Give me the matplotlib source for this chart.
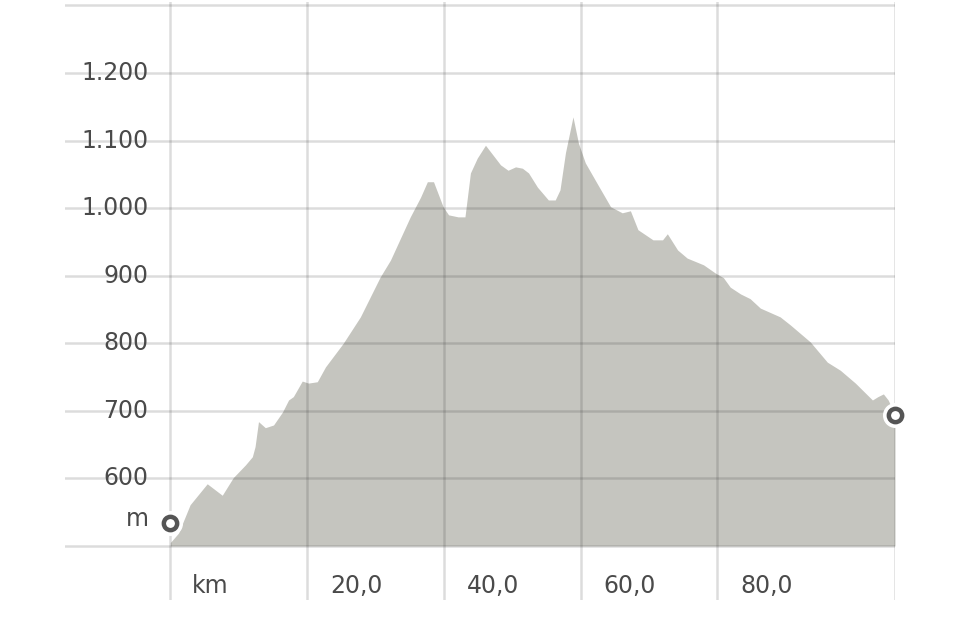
import matplotlib
matplotlib.use("Agg")
import matplotlib.pyplot as plt
import numpy as np

# elevation profile, km vs m
km = [0.0, 1.2, 2.9, 5.4, 7.6, 9.2, 11.0, 12.0, 12.4, 12.9, 13.9, 15.1, 16.4, 17.3,
      18.0, 19.3, 20.2, 21.5, 22.7, 25.3, 27.8, 30.7, 32.2, 35.1, 36.6, 37.6, 38.5,
      39.9, 40.7, 42.1, 43.1, 43.9, 44.9, 46.1, 48.3, 49.4, 50.5, 51.5, 52.4, 53.7,
      55.3, 56.3, 57.0, 57.8, 58.9, 59.7, 60.7, 62.4, 64.4, 66.1, 67.3, 68.4, 70.6,
      72.0, 72.7, 74.2, 75.6, 78.0, 79.7, 80.9, 81.9, 83.4, 84.8, 86.3, 89.2, 90.7,
      93.6, 96.1, 98.0, 100.2, 102.7, 103.5, 104.3, 105.0, 106.0]
elev = [505, 519, 561, 592, 575, 601, 620, 632, 647, 684, 675, 679, 698, 716,
        721, 744, 741, 743, 765, 800, 839, 898, 923, 987, 1016, 1039, 1039,
        1002, 990, 987, 987, 1052, 1074, 1093, 1064, 1056, 1061, 1059, 1052, 1031,
        1012, 1012, 1027, 1082, 1135, 1096, 1067, 1037, 1002, 993, 996, 968, 953,
        953, 962, 938, 926, 916, 904, 897, 883, 873, 866, 852, 839, 827,
        802, 772, 760, 741, 716, 721, 725, 716, 694]

start_pt = (0.0, 534)
end_pt = (106.0, 694)

y_ticks = [600, 700, 800, 900, 1000, 1100, 1200]
y_labels = ["600", "700", "800", "900", "1.000", "1.100", "1.200"]
x_ticks = [20, 40, 60, 80]
x_labels = ["20,0", "40,0", "60,0", "80,0"]

fig = plt.figure(figsize=(9.6, 6.4), dpi=100)
ax = fig.add_axes([0, 0, 1, 1])
x_left, x_right = -15.4, 106.0
y_bot, y_top = 420, 1305
# axes placed so that x 65..895 px, y 2..600 px
ax.set_position([65/960, 40/640, 830/960, 598/640])
ax.set_xlim(x_left, x_right)
ax.set_ylim(y_bot, y_top)
ax.axis("off")

ax.fill_between(km, 500, elev, color="#c5c5bf", lw=0, zorder=1)

grid_kw = dict(color="#303030", alpha=0.17, lw=1.8, zorder=2)
for v in range(500, 1301, 100):
    ax.plot([x_left, x_right], [v, v], **grid_kw)
for v in [0, 20, 40, 60, 80, x_right]:
    ax.plot([v, v], [y_bot, y_top], **grid_kw)

txt = dict(fontsize=17, color="#4a4a4a", family="DejaVu Sans")
for v, s in zip(y_ticks, y_labels):
    ax.text(-3.2, v, s, ha="right", va="center", **txt)
ax.text(-3.2, 540, "m", ha="right", va="center", **txt)
ax.text(3.2, 441, "km", ha="left", va="center", **txt)
for v, s in zip(x_ticks, x_labels):
    ax.text(v + 3.4, 441, s, ha="left", va="center", **txt)

for px, py in [start_pt, end_pt]:
    ax.plot(px, py, "o", ms=17, color="white", zorder=3, clip_on=False)
    ax.plot(px, py, "o", ms=9.6, mfc="white", mec="#555555", mew=3.2, zorder=4,
            clip_on=False)

fig.savefig("out.png", dpi=100)
